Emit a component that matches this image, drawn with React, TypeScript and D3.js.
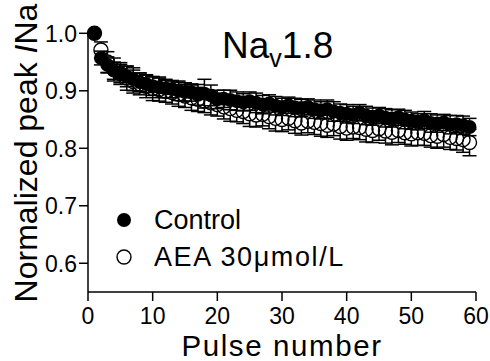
import React from "react";
import * as d3 from "d3";

const pulses: number[] = Array.from({ length: 59 }, (_, i) => i + 1);

const controlMean: number[] = [
  1.0, 0.957, 0.945, 0.935, 0.93, 0.925, 0.92, 0.915, 0.912, 0.908,
  0.906, 0.904, 0.903, 0.9, 0.898, 0.897, 0.893, 0.895, 0.892, 0.885,
  0.886, 0.884, 0.882, 0.88, 0.882, 0.879, 0.876, 0.878, 0.874, 0.872,
  0.875, 0.871, 0.87, 0.872, 0.868, 0.866, 0.868, 0.864, 0.862, 0.86,
  0.858, 0.862, 0.857, 0.855, 0.857, 0.853, 0.852, 0.854, 0.85, 0.848,
  0.846, 0.849, 0.844, 0.843, 0.845, 0.841, 0.842, 0.84, 0.837,
];
const controlErr: number[] = [
  0.0, 0.012, 0.014, 0.015, 0.016, 0.018, 0.02, 0.016, 0.015, 0.016,
  0.018, 0.016, 0.015, 0.017, 0.016, 0.015, 0.018, 0.025, 0.018, 0.016,
  0.015, 0.017, 0.016, 0.015, 0.016, 0.017, 0.016, 0.015, 0.016, 0.015,
  0.014, 0.016, 0.015, 0.014, 0.016, 0.015, 0.016, 0.017, 0.015, 0.016,
  0.015, 0.014, 0.016, 0.015, 0.014, 0.016, 0.015, 0.014, 0.016, 0.015,
  0.014, 0.015, 0.016, 0.015, 0.014, 0.016, 0.015, 0.016, 0.015,
];

const aeaMean: number[] = [
  1.0, 0.971, 0.95, 0.937, 0.93, 0.922, 0.916, 0.912, 0.908, 0.904,
  0.902, 0.899, 0.897, 0.894, 0.891, 0.888, 0.885, 0.882, 0.879, 0.876,
  0.872, 0.869, 0.866, 0.864, 0.86, 0.858, 0.859, 0.855, 0.852, 0.85,
  0.852, 0.848, 0.844, 0.847, 0.845, 0.843, 0.84, 0.842, 0.838, 0.835,
  0.837, 0.836, 0.833, 0.831, 0.834, 0.83, 0.828, 0.831, 0.827, 0.825,
  0.827, 0.826, 0.822, 0.821, 0.824, 0.819, 0.817, 0.815, 0.81,
];
const aeaErr: number[] = [
  0.0, 0.014, 0.018, 0.02, 0.019, 0.021, 0.02, 0.019, 0.02, 0.021,
  0.02, 0.019, 0.02, 0.021, 0.02, 0.022, 0.021, 0.02, 0.021, 0.02,
  0.021, 0.022, 0.02, 0.021, 0.022, 0.021, 0.02, 0.021, 0.022, 0.021,
  0.02, 0.022, 0.021, 0.02, 0.021, 0.022, 0.021, 0.02, 0.022, 0.021,
  0.02, 0.021, 0.022, 0.021, 0.02, 0.021, 0.022, 0.021, 0.02, 0.021,
  0.022, 0.021, 0.02, 0.021, 0.022, 0.021, 0.02, 0.022, 0.023,
];

const xTicks: number[] = [0, 10, 20, 30, 40, 50, 60];
const yTicks: number[] = [0.6, 0.7, 0.8, 0.9, 1.0];

const FONT = "'Liberation Sans', Arial, Helvetica, sans-serif";

export default function App() {
  const x = d3.scaleLinear().domain([0, 60]).range([88, 476]);
  const y = d3.scaleLinear().domain([0.55, 1.0]).range([292, 33.3]);
  const r = 7;
  const cap = 7;

  const errBars = (means: number[], errs: number[], key: string) =>
    pulses.map((p, i) => {
      const cx = x(p);
      const cy = y(means[i]);
      const yt = y(means[i] + errs[i]);
      const yb = y(means[i] - errs[i]);
      if (errs[i] <= 0) return null;
      return (
        <g key={key + i} stroke="#000" strokeWidth={1.5}>
          {cy - r > yt && <line x1={cx} x2={cx} y1={yt} y2={cy - r} />}
          {cy + r < yb && <line x1={cx} x2={cx} y1={cy + r} y2={yb} />}
          <line x1={cx - cap} x2={cx + cap} y1={yt} y2={yt} />
          <line x1={cx - cap} x2={cx + cap} y1={yb} y2={yb} />
        </g>
      );
    });

  return (
    <svg
      width={490}
      height={361}
      style={{ position: "absolute", left: 0, top: 0, background: "#fff" }}
      fontFamily={FONT}
    >
      {/* AEA series */}
      {errBars(aeaMean, aeaErr, "ae")}
      {pulses.map((p, i) => (
        <circle
          key={"ac" + i}
          cx={x(p)}
          cy={y(aeaMean[i])}
          r={r}
          fill="none"
          stroke="#000"
          strokeWidth={1.4}
        />
      ))}
      {/* Control series */}
      {errBars(controlMean, controlErr, "ce")}
      {pulses.map((p, i) => (
        <circle key={"cc" + i} cx={x(p)} cy={y(controlMean[i])} r={r} fill="#000" />
      ))}

      {/* Axes */}
      <g stroke="#000" strokeWidth={1.5}>
        <line x1={88} x2={88} y1={y(1.0)} y2={292} />
        <line x1={88} x2={476} y1={292} y2={292} />
        {yTicks.map((t) => (
          <line key={"yt" + t} x1={79} x2={88} y1={y(t)} y2={y(t)} />
        ))}
        {xTicks.map((t) => (
          <line key={"xt" + t} x1={x(t)} x2={x(t)} y1={292} y2={301} />
        ))}
      </g>
      {yTicks.map((t) => (
        <text
          key={"yl" + t}
          x={77}
          y={y(t)}
          dy="0.36em"
          textAnchor="end"
          fontSize={23}
          fill="#000"
        >
          {d3.format(".1f")(t)}
        </text>
      ))}
      {xTicks.map((t) => (
        <text key={"xl" + t} x={x(t)} y={324} textAnchor="middle" fontSize={23} fill="#000">
          {t}
        </text>
      ))}

      {/* Axis titles */}
      <text
        x={282}
        y={355.5}
        textAnchor="middle"
        fontSize={29.5}
        letterSpacing={1.6}
        fill="#000"
      >
        Pulse number
      </text>
      <text
        transform="translate(37,153) rotate(-90)"
        textAnchor="middle"
        fontSize={32}
        fill="#000"
      >
        Normalized peak <tspan fontStyle="italic">I</tspan>Na
      </text>

      {/* Title */}
      <text x={222} y={58} fontSize={37} fill="#000">
        Na<tspan fontSize={25} dy={9}>v</tspan>
        <tspan dy={-9}>1.8</tspan>
      </text>

      {/* Legend */}
      <circle cx={124} cy={220} r={r} fill="#000" />
      <text x={154} y={229} fontSize={27} fill="#000">
        Control
      </text>
      <circle cx={124} cy={257} r={r} fill="none" stroke="#000" strokeWidth={1.4} />
      <text x={154} y={266} fontSize={27} fill="#000" letterSpacing={1.6}>
        AEA 30μmol/L
      </text>
    </svg>
  );
}
